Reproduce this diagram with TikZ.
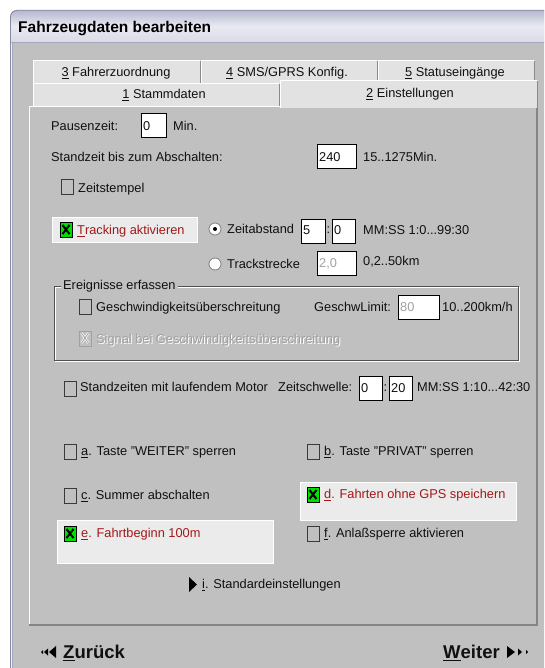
\documentclass[tikz,border=0pt]{standalone}
\usepackage{fontspec}
\setmainfont{Liberation Sans}
\definecolor{body}{HTML}{C0C0C0}
\definecolor{tbtop}{HTML}{B4B8CE}
\definecolor{tbmid}{HTML}{E8E9F1}
\definecolor{tbbot}{HTML}{DADBE6}
\definecolor{tbline}{HTML}{5E5E7E}
\definecolor{frameA}{HTML}{8A8AA8}
\definecolor{frameB}{HTML}{F0F0F6}
\definecolor{frameC}{HTML}{A6A6BE}
\definecolor{tabf}{HTML}{E2E2E2}
\definecolor{tabd}{HTML}{8A8A8A}
\definecolor{pdark}{HTML}{858585}
\definecolor{txt}{HTML}{101010}
\definecolor{dred}{HTML}{A31818}
\definecolor{dis}{HTML}{A0A0A0}
\definecolor{lbox}{HTML}{EBEBEB}
\definecolor{chkgreen}{HTML}{00E000}
\definecolor{chkc}{HTML}{3A3A3A}
\definecolor{grpline}{HTML}{505050}
\newcommand\uitext{\fontsize{12.8}{15}\selectfont}
\newcommand\ttlfont{\fontsize{15.5}{18}\selectfont\bfseries}
\newcommand\navfont{\fontsize{18.5}{22}\selectfont\bfseries}
\newcommand\mycb[2]{\draw[chk] (#1,#2) rectangle ++(12,15);}
\newcommand\mycbon[2]{\draw[chkon] (#1,#2) rectangle ++(12,15);
  \draw[xmark] (#1+2.5,#2+3) -- (#1+9.5,#2+12) (#1+9.5,#2+3) -- (#1+2.5,#2+12);}
\newcommand\mytab[4]{%
  \fill[tabf] (#1,#2) rectangle (#3,#4);
  \draw[white] (#1+.5,#4) -- (#1+.5,#2+.5) -- (#3-1,#2+.5);
  \draw[tabd] (#3-.5,#2+1) -- (#3-.5,#4);}
\tikzset{
  lbl/.style={anchor=base west, inner sep=0pt, yshift=-4.6pt, font=\uitext, text=txt},
  clbl/.style={anchor=base, inner sep=0pt, yshift=-4.6pt, font=\uitext, text=txt},
  redlbl/.style={lbl, text=dred},
  dislbl/.style={lbl, text=dis},
  inbox/.style={fill=white, draw=black, line width=1pt},
  chk/.style={draw=chkc, line width=1pt},
  chkon/.style={fill=chkgreen, draw=black, line width=1pt},
  xmark/.style={draw=black, line width=2pt},
  lightbox/.style={fill=lbox, draw=white, line width=1pt},
  radiobtn/.style={fill=white, draw=gray, line width=0.8pt},
  navtri/.style={fill=black},
}
\begin{document}
\begin{tikzpicture}[x=1pt,y=-1pt]
\useasboundingbox (0,0) rectangle (544,668);
\clip (0,0) rectangle (544,668);
\fill[white] (0,0) rectangle (544,668);
% window
\fill[body] (10,700) -- (10,17) .. controls (10,13) and (13,10) .. (17,10) -- (600,10) -- (600,700) -- cycle;
\shade[top color=tbtop, bottom color=tbbot, middle color=tbmid] (10,42) -- (10,17) .. controls (10,13) and (13,10) .. (17,10) -- (600,10) -- (600,42) -- cycle;
\draw[tbline] (10.5,17) .. controls (10.5,13.5) and (13.5,10.5) .. (17,10.5) -- (600,10.5);
\draw[frameC] (10,42.5) -- (600,42.5);
\draw[frameA] (10.5,17) -- (10.5,700);
\draw[frameB] (11.5,43) -- (11.5,700);
\draw[frameC] (12.5,43) -- (12.5,700);
\node[anchor=base west, inner sep=0pt, font=\ttlfont, text=black] (title) at (18,32.5) {Fahrzeugdaten bearbeiten};
% back tabs
\mytab{33}{60}{201}{83}
\mytab{201}{60}{378}{83}
\mytab{378}{60}{535}{83}
% panel
\fill[body] (29,106) rectangle (538,626);
\draw[white] (29.5,626) -- (29.5,106.5) -- (538,106.5);
\draw[pdark, line width=2pt] (29,625) -- (537,625) -- (537,106);
% front tabs
\mytab{33}{83}{280}{106}
\mytab{280}{80}{538}{108}
\node[clbl] (t3) at (116,72) {\underline{3} Fahrerzuordnung};
\node[clbl] (t4) at (287,72) {\underline{4} SMS/GPRS Konfig.};
\node[clbl] (t5) at (455,72) {\underline{5} Statuseingänge};
\node[clbl] (t1) at (164,94) {\underline{1} Stammdaten};
\node[clbl] (t2) at (410,93) {\underline{2} Einstellungen};
% Pausenzeit
\node[lbl] (pz) at (51,126) {Pausenzeit:};
\draw[inbox] (141,114) rectangle (166,138);
\node[lbl] (pzv) at (143,126) {0};
\node[lbl] (pzu) at (173,126) {Min.};
% Standzeit
\node[lbl] (sz) at (51,157) {Standzeit bis zum Abschalten:};
\draw[inbox] (317,145) rectangle (356,169);
\node[lbl] (szv) at (319,157) {240};
\node[lbl] (szr) at (363,157) {15..1275Min.};
% Zeitstempel
\mycb{61}{180}
\node[lbl] (zs) at (78,188) {Zeitstempel};
% Tracking
\draw[lightbox] (52,217) rectangle (197,242);
\mycbon{60}{222}
\node[redlbl] (tr) at (77,230) {\underline{T}racking aktivieren};
\draw[radiobtn] (215,229) circle[radius=6];
\fill[black] (215,229) circle[radius=2];
\node[lbl] (za) at (227,229) {Zeitabstand};
\draw[inbox] (301,219) rectangle (325,243);
\node[lbl] (zav1) at (303,230) {5};
\node[lbl] (zac) at (326.5,229) {:};
\draw[inbox] (332,219) rectangle (355,243);
\node[lbl] (zav2) at (334,230) {0};
\node[lbl] (zar) at (363,230) {MM:SS 1:0...99:30};
% Trackstrecke
\draw[radiobtn] (215,264) circle[radius=6];
\node[lbl] (ts) at (227,264) {Trackstrecke};
\draw[inbox] (317,251) rectangle (356,275);
\node[dislbl] (tsv) at (319,263) {2,0};
\node[lbl] (tsr) at (363,261) {0,2..50km};
% group box
\draw[white] (55.5,287.5) rectangle (519.5,361.5);
\draw[grpline] (54.5,286.5) rectangle (518.5,360.5);
\node[anchor=base west, inner sep=2pt, yshift=-4.6pt, font=\uitext, text=txt, fill=body] (grp) at (61,285) {Ereignisse erfassen};
\mycb{79}{299}
\node[lbl] (gs) at (96,307) {Geschwindigkeitsüberschreitung};
\node[lbl] (gl) at (314,307) {GeschwLimit:};
\draw[inbox] (398,295) rectangle (439,319);
\node[dislbl] (glv) at (400,307) {80};
\node[lbl] (glr) at (442,307) {10..200km/h};
\draw[white, line width=2.2pt] (81.5,333) -- (88.5,343) (88.5,333) -- (81.5,343);
\draw[dis, line width=0.8pt] (81.5,333) -- (88.5,343) (88.5,333) -- (81.5,343);
\draw[draw=dis, line width=1pt] (79,331) rectangle ++(12,15);
\node[lbl, text=white] (sgw) at (97,340) {Signal bei Geschwindigkeitsüberschreitung};
\node[dislbl] (sg) at (96,339) {Signal bei Geschwindigkeitsüberschreitung};
% Standzeiten mit laufendem Motor
\mycb{64}{381}
\node[lbl] (sm) at (80,387) {Standzeiten mit laufendem Motor};
\node[lbl] (zsw) at (278,387) {Zeitschwelle:};
\draw[inbox] (359,376) rectangle (382,400);
\node[lbl] (zsv1) at (361,388) {0};
\node[lbl] (zsc) at (383.5,387) {:};
\draw[inbox] (389,376) rectangle (412,400);
\node[lbl] (zsv2) at (391,388) {20};
\node[lbl] (zsr) at (417,387) {MM:SS 1:10...42:30};
% a, b
\mycb{64}{444}
\node[lbl] (oa) at (81,451) {\underline{a}. Taste "WEITER" sperren};
\mycb{307}{444}
\node[lbl] (ob) at (324,451) {\underline{b}. Taste "PRIVAT" sperren};
% c, d
\mycb{64}{488}
\node[lbl] (oc) at (81,495) {\underline{c}. Summer abschalten};
\draw[lightbox] (300,482) rectangle (516,520);
\mycbon{307}{487}
\node[redlbl] (od) at (324,494) {\underline{d}. Fahrten ohne GPS speichern};
% e, f
\draw[lightbox] (57,520) rectangle (273,563);
\mycbon{64}{526}
\node[redlbl] (oe) at (81,533) {\underline{e}. Fahrtbeginn 100m};
\mycb{307}{526}
\node[lbl] (of) at (324,533) {\underline{f}. Anlaßsperre aktivieren};
% Standardeinstellungen
\fill[navtri] (189,577) -- (197,584.5) -- (189,592) -- cycle;
\node[lbl] (std) at (202,584) {\underline{i}. Standardeinstellungen};
% navigation
\fill[navtri] (41,652) -- (43,650) -- (43,654) -- cycle;
\fill[navtri] (44,652) -- (48,648.5) -- (48,655.5) -- cycle;
\fill[navtri] (49,652) -- (56,646) -- (56,658) -- cycle;
\node[anchor=base west, inner sep=0pt, yshift=-6.6pt, font=\navfont, text=txt] (back) at (63,652) {\underline{Z}urück};
\node[anchor=base west, inner sep=0pt, yshift=-6.6pt, font=\navfont, text=txt] (next) at (443,652) {\underline{W}eiter};
\fill[navtri] (515,652) -- (507,646) -- (507,658) -- cycle;
\fill[navtri] (522,652) -- (518,648.5) -- (518,655.5) -- cycle;
\fill[navtri] (528,652) -- (526,650) -- (526,654) -- cycle;
\end{tikzpicture}
\end{document}
